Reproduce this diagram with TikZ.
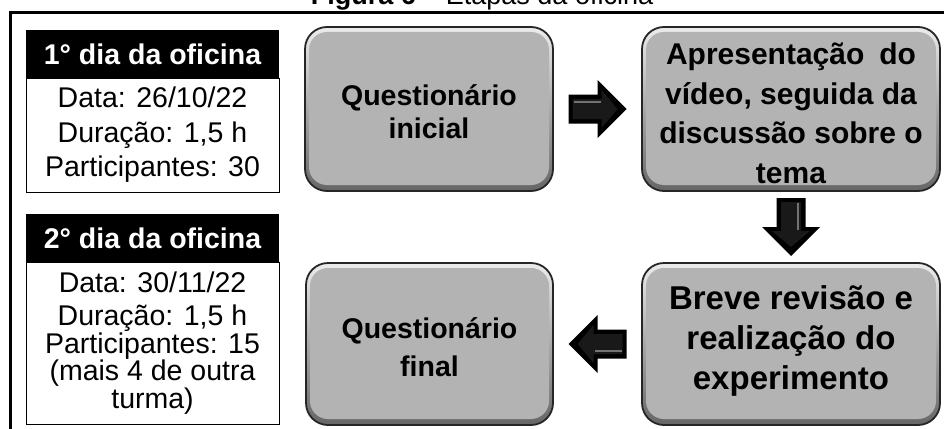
\documentclass[tikz,border=0pt]{standalone}
\usepackage{fontspec}
\setmainfont{Liberation Sans}
\usetikzlibrary{calc}
\definecolor{boxgray}{HTML}{B3B3B3}
\newcommand\blockarrow[2]{%
  \begin{scope}[shift={#1}, rotate=#2]
    \fill[black] (-29,-14.5) -- (0,-14.5) -- (0,-29) -- (29,0) -- (0,29) -- (0,14.5) -- (-29,14.5) -- cycle;
    \fill[black!90] (-25,-10) -- (4,-10) -- (4,-19) -- (20,0) -- (4,19) -- (4,10) -- (-25,10) -- cycle;
    \draw[black!55, line width=2.5pt] (-24,-7) -- (3,-7);
  \end{scope}}
\tikzset{
  every node/.style={inner sep=0pt, outer sep=0pt},
  hdr/.style={rectangle, fill=black, text=white, minimum width=253pt, minimum height=48pt,
    font=\bfseries\fontsize{28.5}{34}\selectfont},
  bodybox/.style={rectangle, draw=black, line width=0.9pt, fill=white, minimum width=253pt, align=center},
  graybox/.style={rectangle, rounded corners=22pt, draw=black!85, line width=1.8pt,
    top color=gray!15, bottom color=gray!80!black, align=center, text depth=0pt,
    path picture={\fill[boxgray, rounded corners=18pt]
      ([xshift=4pt,yshift=-5pt]path picture bounding box.north west) rectangle
      ([xshift=-4pt,yshift=6pt]path picture bounding box.south east);}}
}
\begin{document}
\begin{tikzpicture}[x=1pt,y=-1pt]
\useasboundingbox (0,0) rectangle (944,428);
\fill[white] (0,0) rectangle (944,428);
% caption (cut at top)
\node[anchor=base, font=\fontsize{27}{30}\selectfont] (cap) at (482,5) {\textbf{Figura 6} – Etapas da oficina};
% outer frame
\draw[line width=3pt] (10,440) -- (10,12.5) -- (960,12.5);
% left info boxes
\node[hdr] (h1) at (152.5,54) {1° dia da oficina};
\node[bodybox, minimum height=114pt, anchor=north, font=\fontsize{28.5}{34.5}\selectfont] (b1) at (h1.south)
  {Data: 26/10/22\\Duração: 1,5 h\\Participantes: 30};
\node[hdr] (h2) at (152.5,238) {2° dia da oficina};
\node[bodybox, minimum height=162pt, anchor=north, font=\fontsize{28.5}{26}\selectfont] (b2) at (h2.south)
  {Data: 30/11/22\\[7pt]Duração: 1,5 h\\Participantes: 15\\(mais 4 de outra\\turma)};
% process boxes (text height = 2 x offset of last baseline below centre)
\node[graybox, minimum width=248pt, minimum height=164pt, text height=58pt,
  font=\bfseries\fontsize{28.5}{33}\selectfont] (A) at (429,109)
  {Questionário\\inicial};
\node[graybox, minimum width=298pt, minimum height=164pt, text height=148pt,
  font=\bfseries\fontsize{30}{39.5}\selectfont] (B) at (791,109)
  {\makebox[250pt][s]{Apresentação do}\\vídeo, seguida da\\discussão sobre o\\tema};
\node[graybox, minimum width=298pt, minimum height=162pt, text height=90pt,
  font=\bfseries\fontsize{33}{40}\selectfont] (C) at (791,344)
  {Breve revisão e\\realização do\\experimento};
\node[graybox, minimum width=247pt, minimum height=162pt, text height=64pt,
  font=\bfseries\fontsize{28.5}{38}\selectfont] (D) at (429.5,344)
  {Questionário\\final};
% block arrows
\blockarrow{($(A.east)!0.5!(B.west)$)}{0}
\blockarrow{($(B.south)!0.5!(C.north)$)}{-90}
\blockarrow{($(C.west)!0.5!(D.east)$)}{180}
\end{tikzpicture}
\end{document}
